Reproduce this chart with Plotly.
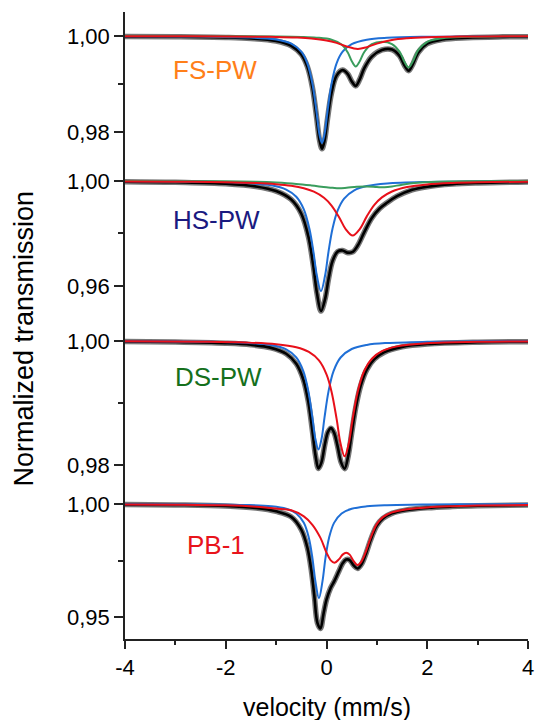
import plotly.graph_objects as go

# ---------------- data ----------------
# FS-PW
fs_blue_v = [-4, -2.5, -1.5, -1.0, -0.7, -0.5, -0.38, -0.28, -0.2, -0.14, -0.09, -0.04, 0.02, 0.1, 0.2, 0.32, 0.5, 0.8, 1.2, 2.0, 3.0, 4.0]
fs_blue = [0.99996, 0.99989, 0.99968, 0.99925, 0.99839, 0.99673, 0.9943, 0.99009, 0.9843, 0.9795, 0.9777, 0.9795, 0.9843, 0.99009, 0.9943, 0.99673, 0.99829, 0.99922, 0.99962, 0.99985, 0.99993, 0.99996]
fs_red_v = [-4, -3, -2, -1.4, -1.0, -0.6, -0.3, 0, 0.2, 0.4, 0.62, 0.8, 1.0, 1.3, 1.6, 2.0, 2.5, 3.0, 4.0]
fs_red = [0.99997, 0.99996, 0.99992, 0.99987, 0.99981, 0.99968, 0.99948, 0.99907, 0.99856, 0.99782, 0.9973, 0.99767, 0.99842, 0.99918, 0.99953, 0.99974, 0.99985, 0.99991, 0.99995]
fs_green_v = [-4, -2, -1.0, -0.5, -0.2, 0.1, 0.3, 0.42, 0.5, 0.58, 0.66, 0.75, 0.9, 1.1, 1.3, 1.45, 1.55, 1.63, 1.71, 1.82, 2.0, 2.3, 2.8, 3.5, 4.0]
fs_green = [0.99999, 0.99996, 0.9999, 0.99981, 0.99966, 0.99923, 0.99823, 0.9966, 0.99479, 0.99364, 0.99474, 0.99667, 0.99831, 0.9988, 0.99833, 0.99675, 0.99457, 0.99344, 0.99462, 0.99704, 0.9988, 0.99955, 0.99983, 0.99993, 0.99996]
fs_total_v = [-4, -3, -2, -1.5, -1.0, -0.7, -0.5, -0.38, -0.28, -0.2, -0.14, -0.09, -0.04, 0.02, 0.1, 0.2, 0.32, 0.42, 0.5, 0.58, 0.66, 0.75, 0.9, 1.1, 1.3, 1.45, 1.55, 1.63, 1.71, 1.82, 2.0, 2.3, 2.8, 3.5, 4.0]
fs_total = [0.99992, 0.99986, 0.99971, 0.9995, 0.99896, 0.99797, 0.99616, 0.99361, 0.98927, 0.98333, 0.97841, 0.9765, 0.97814, 0.98274, 0.98816, 0.99174, 0.9929, 0.99211, 0.99056, 0.98961, 0.99097, 0.9933, 0.99572, 0.99709, 0.99718, 0.99587, 0.99382, 0.99277, 0.99403, 0.99653, 0.99839, 0.99926, 0.99964, 0.99982, 0.99987]

# HS-PW
hs_blue_v = [-4, -2.5, -1.6, -1.1, -0.8, -0.6, -0.45, -0.34, -0.26, -0.19, -0.11, -0.03, 0.04, 0.12, 0.22, 0.35, 0.55, 0.8, 1.2, 2.0, 3.0, 4.0]
hs_blue = [0.99989, 0.99971, 0.99926, 0.99835, 0.99674, 0.994, 0.9892, 0.9819, 0.9731, 0.9638, 0.958, 0.9638, 0.9731, 0.9819, 0.98872, 0.99332, 0.99647, 0.99806, 0.99904, 0.99963, 0.99983, 0.9999]
hs_red_v = [-4, -3, -2, -1.4, -1.0, -0.7, -0.45, -0.25, -0.05, 0.1, 0.25, 0.38, 0.52, 0.66, 0.8, 0.95, 1.1, 1.3, 1.6, 2.0, 2.5, 3.0, 4.0]
hs_red = [0.99985, 0.99976, 0.99954, 0.99922, 0.99878, 0.99816, 0.99723, 0.99592, 0.9936, 0.99064, 0.98618, 0.98168, 0.9792, 0.98168, 0.98652, 0.99088, 0.99375, 0.99601, 0.99771, 0.99871, 0.99926, 0.99952, 0.99975]
hs_green_v = [-4, -3, -2, -1.4, -1.0, -0.6, -0.3, 0.0, 0.12, 0.24, 0.4, 0.6, 0.8, 1.0, 1.15, 1.3, 1.5, 1.8, 2.2, 3.0, 4.0]
hs_green = [1.0, 0.99995, 0.9999, 0.9997, 0.9994, 0.9989, 0.9983, 0.9976, 0.9974, 0.9972, 0.9974, 0.9978, 0.9979, 0.9977, 0.9976, 0.9979, 0.9986, 0.9993, 0.9997, 0.9999, 1.0]
hs_total_v = [-4, -3, -2, -1.4, -1.0, -0.7, -0.5, -0.36, -0.26, -0.19, -0.11, -0.03, 0.04, 0.12, 0.22, 0.32, 0.42, 0.52, 0.62, 0.75, 0.9, 1.05, 1.2, 1.4, 1.7, 2.0, 2.5, 3.0, 4.0]
hs_total = [0.99974, 0.99951, 0.99897, 0.99793, 0.99616, 0.99293, 0.98751, 0.97884, 0.96741, 0.95737, 0.95045, 0.95488, 0.96269, 0.96953, 0.9731, 0.97354, 0.9727, 0.97296, 0.97541, 0.98052, 0.98592, 0.98943, 0.99169, 0.99421, 0.99664, 0.99784, 0.99881, 0.99925, 0.99965]

# DS-PW
ds_blue_v = [-4, -2.5, -1.6, -1.1, -0.8, -0.6, -0.46, -0.36, -0.28, -0.22, -0.16, -0.1, -0.04, 0.04, 0.14, 0.28, 0.5, 0.8, 1.2, 2.0, 3.0, 4.0]
ds_blue = [0.99996, 0.99989, 0.99971, 0.99934, 0.99864, 0.99734, 0.99514, 0.99188, 0.98763, 0.98414, 0.9825, 0.98414, 0.98763, 0.99188, 0.99514, 0.99734, 0.99871, 0.99937, 0.99968, 0.99987, 0.99994, 0.99997]
ds_red_v = [-4, -2.5, -1.6, -1.0, -0.6, -0.35, -0.15, 0.0, 0.1, 0.2, 0.28, 0.36, 0.44, 0.52, 0.62, 0.75, 0.9, 1.1, 1.4, 2.0, 3.0, 4.0]
ds_red = [0.99995, 0.99988, 0.99975, 0.99948, 0.99899, 0.99823, 0.99686, 0.99461, 0.99183, 0.98747, 0.98341, 0.9814, 0.98341, 0.98747, 0.99183, 0.9952, 0.99714, 0.99836, 0.99913, 0.99964, 0.99986, 0.99993]
ds_total_v = [-4, -3, -2, -1.5, -1.1, -0.8, -0.6, -0.46, -0.36, -0.28, -0.22, -0.16, -0.1, -0.03, 0.03, 0.09, 0.15, 0.22, 0.29, 0.36, 0.43, 0.5, 0.58, 0.68, 0.8, 0.95, 1.15, 1.5, 2.0, 3.0, 4.0]
ds_total = [0.99991, 0.99984, 0.99964, 0.99939, 0.99889, 0.99794, 0.99633, 0.99378, 0.99016, 0.9855, 0.98161, 0.97945, 0.98042, 0.98343, 0.98535, 0.98594, 0.98522, 0.98304, 0.98042, 0.97941, 0.9814, 0.98514, 0.98925, 0.99284, 0.99538, 0.99707, 0.9982, 0.99905, 0.99951, 0.9998, 0.99989]

# PB-1
pb_blue_v = [-4, -2.5, -1.6, -1.1, -0.8, -0.6, -0.45, -0.35, -0.28, -0.22, -0.15, -0.08, -0.02, 0.05, 0.15, 0.3, 0.5, 0.8, 1.2, 2.0, 3.0, 4.0]
pb_blue = [0.99994, 0.99983, 0.99956, 0.99899, 0.99789, 0.99583, 0.99166, 0.98499, 0.97619, 0.96577, 0.9583, 0.96577, 0.97619, 0.98499, 0.99166, 0.99583, 0.99789, 0.99899, 0.99949, 0.9998, 0.99991, 0.99995]
pb_red_v = [-4, -3, -2, -1.4, -1.0, -0.7, -0.45, -0.28, -0.12, 0.0, 0.08, 0.16, 0.25, 0.32, 0.39, 0.46, 0.54, 0.62, 0.70, 0.79, 0.86, 0.93, 1.0, 1.12, 1.3, 1.57, 2.0, 2.5, 3.0, 4.0]
pb_red = [0.9998, 0.9997, 0.9994, 0.9988, 0.998, 0.9972, 0.9945, 0.9908, 0.985, 0.9785, 0.9752, 0.974, 0.9756, 0.9776, 0.9784, 0.9776, 0.9747, 0.973, 0.9748, 0.9795, 0.984, 0.988, 0.9912, 0.9942, 0.9963, 0.9976, 0.9985, 0.999, 0.9993, 0.9996]
pb_total_v = [-4, -3, -2, -1.4, -1.0, -0.7, -0.5, -0.38, -0.3, -0.24, -0.18, -0.12, -0.06, 0.0, 0.08, 0.16, 0.25, 0.32, 0.39, 0.46, 0.54, 0.62, 0.70, 0.79, 0.86, 0.93, 1.0, 1.12, 1.3, 1.57, 2.0, 2.5, 3.0, 4.0]
pb_total = [0.99974, 0.99958, 0.99913, 0.99821, 0.99674, 0.99431, 0.98863, 0.98076, 0.97046, 0.95895, 0.94741, 0.94491, 0.95135, 0.95766, 0.96276, 0.96609, 0.97046, 0.97375, 0.97541, 0.97522, 0.97282, 0.97148, 0.97354, 0.97846, 0.9831, 0.98721, 0.9905, 0.99363, 0.99586, 0.99729, 0.9983, 0.99887, 0.99921, 0.99955]

sample_names = ["FS-PW", "HS-PW", "DS-PW", "PB-1"]

x_tick_vals = [-4, -2, 0, 2, 4]
x_tick_text = ["-4", "-2", "0", "2", "4"]
x_minor_vals = [-3, -1, 1, 3]

y_tick_vals = [[0.98, 1.00], [0.96, 1.00], [0.98, 1.00], [0.95, 1.00]]
y_tick_text = [["0,98", "1,00"], ["0,96", "1,00"], ["0,98", "1,00"], ["0,95", "1,00"]]
y_minor_vals = [[0.99], [0.98], [0.99], [0.975]]

# ---------------- styling ----------------
FONT = "Liberation Sans, Arial, sans-serif"
C_BLUE = "#1f6fd6"
C_RED = "#e8101a"
C_GREEN = "#3a9d5d"
C_DATA = "rgba(95,95,95,0.85)"
AX = "#222222"

label_colors = ["#ff7f1a", "#1a1a80", "#15701c", "#e8141b"]
label_pos = [(-3.08, 0.99292), (-3.08, 0.98514), (-3.05, 0.99419), (-2.81, 0.98186)]

y_ranges = [[0.97417, 1.005], [0.94514, 1.008], [0.97645, 1.00258], [0.94027, 1.00752]]
y_domains = [[0.76396, 1.0], [0.50080, 0.76396], [0.24242, 0.50080], [0.0, 0.24242]]

panels = [
    dict(total=(fs_total_v, fs_total), comps=[(fs_blue_v, fs_blue, C_BLUE), (fs_green_v, fs_green, C_GREEN), (fs_red_v, fs_red, C_RED)]),
    dict(total=(hs_total_v, hs_total), comps=[(hs_blue_v, hs_blue, C_BLUE), (hs_green_v, hs_green, C_GREEN), (hs_red_v, hs_red, C_RED)]),
    dict(total=(ds_total_v, ds_total), comps=[(ds_blue_v, ds_blue, C_BLUE), (ds_red_v, ds_red, C_RED)]),
    dict(total=(pb_total_v, pb_total), comps=[(pb_blue_v, pb_blue, C_BLUE), (pb_red_v, pb_red, C_RED)]),
]

fig = go.Figure()
yaxes_names = ["y", "y2", "y3", "y4"]

for i, p in enumerate(panels):
    ya = yaxes_names[i]
    tv, ty = p["total"]
    # measured data band
    fig.add_trace(go.Scatter(x=tv, y=ty, mode="lines", yaxis=ya, xaxis="x",
                             line=dict(color=C_DATA, width=5.5, shape="spline", smoothing=1.0),
                             showlegend=False, hoverinfo="skip"))
    # total fit
    fig.add_trace(go.Scatter(x=tv, y=ty, mode="lines", yaxis=ya, xaxis="x",
                             line=dict(color="black", width=2.6, shape="spline", smoothing=1.0),
                             showlegend=False))
    for cv, cy, col in p["comps"]:
        fig.add_trace(go.Scatter(x=cv, y=cy, mode="lines", yaxis=ya, xaxis="x",
                                 line=dict(color=col, width=2.0, shape="spline", smoothing=1.0),
                                 showlegend=False))

layout = dict(
    width=542, height=720, autosize=False,
    margin=dict(l=125, r=8, t=12, b=81),
    paper_bgcolor="white", plot_bgcolor="white",
    font=dict(family=FONT, color="black"),
    showlegend=False,
    xaxis=dict(range=[-4, 4], anchor="y4", domain=[0, 1],
               showline=True, linecolor=AX, linewidth=1.5,
               ticks="outside", ticklen=8, tickwidth=1.5, tickcolor=AX,
               tickmode="array", tickvals=x_tick_vals, ticktext=x_tick_text,
               minor=dict(tickmode="array", tickvals=x_minor_vals, ticks="outside",
                          ticklen=4, tickwidth=1.5, tickcolor=AX, showgrid=False),
               tickfont=dict(size=22, family=FONT, color="black"),
               showgrid=False, zeroline=False),
)
for i in range(4):
    key = "yaxis" if i == 0 else f"yaxis{i+1}"
    layout[key] = dict(
        domain=y_domains[i], range=y_ranges[i], anchor="x",
        showline=True, linecolor=AX, linewidth=1.5,
        ticks="outside", ticklen=9, tickwidth=1.5, tickcolor=AX,
        tickmode="array", tickvals=y_tick_vals[i], ticktext=y_tick_text[i],
        minor=dict(tickmode="array", tickvals=y_minor_vals[i], ticks="outside",
                   ticklen=5, tickwidth=1.5, tickcolor=AX, showgrid=False),
        tickfont=dict(size=22, family=FONT, color="black"),
        showgrid=False, zeroline=False,
    )
fig.update_layout(**layout)

annotations = []
for i, name in enumerate(sample_names):
    ref = "y" if i == 0 else f"y{i+1}"
    annotations.append(dict(x=label_pos[i][0], y=label_pos[i][1], xref="x", yref=ref,
                            text=name, showarrow=False, xanchor="left", yanchor="middle",
                            font=dict(size=26, family=FONT, color=label_colors[i])))
annotations.append(dict(x=0.5, y=-0.1085, xref="paper", yref="paper", text="velocity (mm/s)",
                        showarrow=False, xanchor="center", yanchor="middle",
                        font=dict(size=25, family=FONT, color="black")))
annotations.append(dict(x=-0.2494, y=0.48, xref="paper", yref="paper", text="Normalized transmission",
                        showarrow=False, xanchor="center", yanchor="middle", textangle=-90,
                        font=dict(size=27, family=FONT, color="black")))
fig.update_layout(annotations=annotations)

fig.write_html("out.html", config={"displayModeBar": False})

# remove the browser's default page margin so the figure sits at the window's corner
with open("out.html", "r", encoding="utf-8") as f:
    html = f.read()
html = html.replace("<body>", '<body style="margin:0;padding:0;overflow:hidden">', 1)
with open("out.html", "w", encoding="utf-8") as f:
    f.write(html)
